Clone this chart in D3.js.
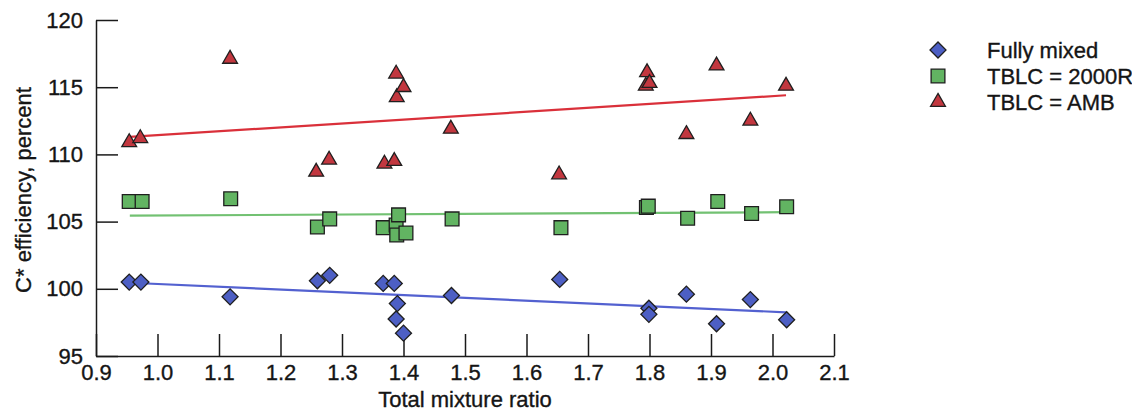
<!DOCTYPE html>
<html>
<head>
<meta charset="utf-8">
<script src="https://cdn.jsdelivr.net/npm/d3@7"></script>
<style>
  body { margin: 0; background: #fff; }
  text { font-family: "Liberation Sans", Arial, sans-serif; fill: #151515; stroke: #151515; stroke-width: 0.35px; }
</style>
</head>
<body>
<div id="chart"></div>
<script>
// data
const xTicks = [0.9, 1.0, 1.1, 1.2, 1.3, 1.4, 1.5, 1.6, 1.7, 1.8, 1.9, 2.0, 2.1];
const yTicks = [95, 100, 105, 110, 115, 120];

const seriesNames = ["Fully mixed", "TBLC = 2000R", "TBLC = AMB"];

const fullyMixedX = [0.954, 0.973, 1.118, 1.26, 1.28, 1.367, 1.385, 1.39, 1.388, 1.40, 1.478, 1.654, 1.799, 1.799, 1.86, 1.909, 1.964, 2.023];
const fullyMixedY = [100.5, 100.5, 99.4, 100.6, 101.0, 100.4, 100.4, 98.9, 97.75, 96.7, 99.5, 100.7, 98.55, 98.1, 99.6, 97.4, 99.2, 97.7];

const tblc2000X = [0.954, 0.975, 1.119, 1.26, 1.28, 1.367, 1.388, 1.392, 1.389, 1.404, 1.479, 1.656, 1.795, 1.798, 1.862, 1.911, 1.966, 2.023];
const tblc2000Y = [106.5, 106.5, 106.7, 104.6, 105.2, 104.55, 104.75, 105.5, 104.0, 104.15, 105.2, 104.55, 106.05, 106.15, 105.25, 106.5, 105.6, 106.1];

const ambX = [0.954, 0.972, 1.118, 1.258, 1.279, 1.369, 1.385, 1.388, 1.389, 1.40, 1.477, 1.653, 1.796, 1.794, 1.80, 1.86, 1.909, 1.964, 2.022];
const ambY = [110.9, 111.2, 117.1, 108.7, 109.6, 109.3, 109.5, 116.0, 114.25, 115.0, 111.9, 108.5, 116.1, 115.1, 115.3, 111.5, 116.6, 112.5, 115.1];

// fit line end points
const fitX = [0.955, 2.022];
const fullyMixedFit = [100.45, 98.25];
const tblc2000Fit = [105.44, 105.7];
const ambFit = [111.3, 114.4];

const W = 1132, H = 414;
const margin = {top: 20, left: 96, right: 298, bottom: 58};
const fontSize = 22;

const svg = d3.select("#chart").append("svg")
    .attr("width", W)
    .attr("height", H);

const x = d3.scaleLinear().domain([0.9, 2.1]).range([margin.left, W - margin.right]);
const y = d3.scaleLinear().domain([95, 120]).range([H - margin.bottom, margin.top]);

const series = [
  {name: seriesNames[0], xs: fullyMixedX, ys: fullyMixedY, fit: fullyMixedFit, fill: "#4d5fc4", line: "#5361d0", shape: "diamond"},
  {name: seriesNames[1], xs: tblc2000X, ys: tblc2000Y, fit: tblc2000Fit, fill: "#62b462", line: "#72c172", shape: "square"},
  {name: seriesNames[2], xs: ambX, ys: ambY, fit: ambFit, fill: "#c2373f", line: "#da303a", shape: "triangle"}
];

function symbolPath(shape) {
  if (shape === "square") return d3.symbol(d3.symbolSquare, 190)();
  if (shape === "diamond") return d3.symbol(d3.symbolSquare, 128)();
  return d3.symbol(d3.symbolTriangle, 95)();
}
function symbolRot(shape) { return shape === "diamond" ? " rotate(45)" : ""; }

// axes
const xAxis = svg.append("g")
    .attr("transform", `translate(0,${y(95)})`)
    .call(d3.axisBottom(x).tickValues(xTicks).tickFormat(d3.format(".1f"))
      .tickSizeInner(-22).tickSizeOuter(0).tickPadding(8));
const yAxis = svg.append("g")
    .attr("transform", `translate(${x(0.9)},0)`)
    .call(d3.axisLeft(y).tickValues(yTicks).tickFormat(d3.format("d"))
      .tickSizeInner(-22).tickSizeOuter(0).tickPadding(13));

[xAxis, yAxis].forEach(g => {
  g.selectAll("path, line").attr("stroke", "#1a1a1a").attr("stroke-width", 1.5);
  g.selectAll("text").attr("font-size", fontSize).attr("fill", "#151515")
    .attr("font-family", "'Liberation Sans', Arial, sans-serif");
});

svg.append("text")
    .attr("x", (x(0.9) + x(2.1)) / 2)
    .attr("y", 407)
    .attr("text-anchor", "middle")
    .attr("font-size", fontSize)
    .text("Total mixture ratio");

svg.append("text")
    .attr("transform", `translate(31,${(y(95) + y(120)) / 2 + 2}) rotate(-90)`)
    .attr("text-anchor", "middle")
    .attr("font-size", fontSize)
    .text("C* efficiency, percent");

// fit lines
const line = d3.line().x(d => x(d[0])).y(d => y(d[1]));
series.forEach(s => {
  svg.append("path")
      .attr("d", line(fitX.map((v, i) => [v, s.fit[i]])))
      .attr("fill", "none")
      .attr("stroke", s.line)
      .attr("stroke-width", 2.2);
});

// markers
series.slice().reverse().forEach(s => {
  svg.append("g")
    .selectAll("path")
    .data(s.xs.map((v, i) => [v, s.ys[i]]))
    .join("path")
      .attr("d", symbolPath(s.shape))
      .attr("transform", d => `translate(${x(d[0])},${y(d[1])})${symbolRot(s.shape)}`)
      .attr("fill", s.fill)
      .attr("stroke", "#1f1f1f")
      .attr("stroke-width", 1.3);
});

// legend
const legend = svg.append("g").attr("transform", "translate(938,50)");
series.forEach((s, i) => {
  const row = legend.append("g").attr("transform", `translate(0,${i * 26})`);
  row.append("path")
      .attr("d", symbolPath(s.shape))
      .attr("transform", "translate(0,0)" + symbolRot(s.shape))
      .attr("fill", s.fill)
      .attr("stroke", "#1f1f1f")
      .attr("stroke-width", 1.3);
  row.append("text")
      .attr("x", 49)
      .attr("dy", "0.35em")
      .attr("font-size", fontSize)
      .text(s.name);
});
</script>
</body>
</html>
